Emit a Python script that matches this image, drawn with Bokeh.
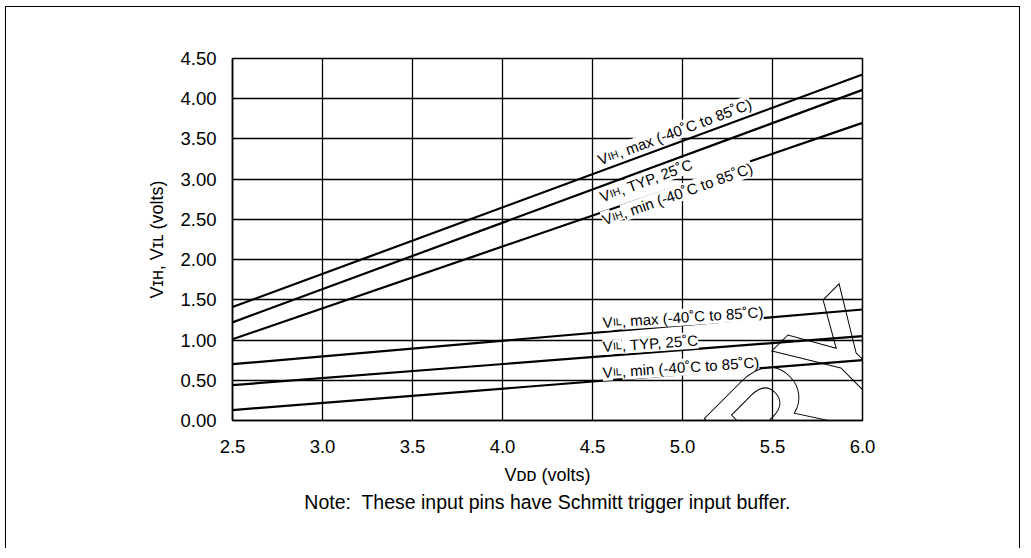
import math
from bokeh.plotting import figure
from bokeh.models import Label, FixedTicker, NumeralTickFormatter, Range1d, ColumnDataSource, Title
from bokeh.embed import file_html
from bokeh.resources import INLINE

# ---- data ----
vdd = [2.5, 6.0]
vih_max = [1.41, 4.30]
vih_typ = [1.22, 4.11]
vih_min = [1.01, 3.70]
vil_max = [0.70, 1.38]
vil_typ = [0.44, 1.05]
vil_min = [0.13, 0.75]

series_names = ["vih_max", "vih_typ", "vih_min", "vil_max", "vil_typ", "vil_min"]
# label = main letter, small-cap subscript, remainder
label_main = ["V", "V", "V", "V", "V", "V"]
label_sub = ["IH", "IH", "IH", "IL", "IL", "IL"]
label_rest = [
    ", max (-40\u02daC to 85\u02daC)",
    ", TYP, 25\u02daC",
    ", min (-40\u02daC to 85\u02daC)",
    ", max (-40\u02daC to 85\u02daC)",
    ", TYP, 25\u02daC",
    ", min (-40\u02daC to 85\u02daC)",
]
x_ticks = [2.5, 3.0, 3.5, 4.0, 4.5, 5.0, 5.5, 6.0]
y_ticks = [0.0, 0.5, 1.0, 1.5, 2.0, 2.5, 3.0, 3.5, 4.0, 4.5]

x_title = "V\u1d05\u1d05 (volts)"
y_title = "V\u026a\u029c, V\u026a\u029f (volts)"
note_text = "Note:\u00a0 These input pins have Schmitt trigger input buffer."
watermark_text = "PRELIMINARY"

# label placement (anchor = start of baseline, data units) and angles
label_x = [4.533, 4.544, 4.556, 4.556, 4.556, 4.556]
label_y = [3.234, 2.774, 2.488, 1.219, 0.920, 0.597]
label_angle = [20.5, 20.3, 19.5, 3.8, 3.8, 3.8]

FONT = '"Liberation Sans", "Noto Sans", "DejaVu Sans"'
LBL_SIZE = 15.0
SUB_SIZE = 10.5
ADV = {"V": 0.667, "I": 0.278, "H": 0.722, "L": 0.556}

source = ColumnDataSource(dict(vdd=vdd, vih_max=vih_max, vih_typ=vih_typ, vih_min=vih_min,
                               vil_max=vil_max, vil_typ=vil_typ, vil_min=vil_min))

p = figure(width=1015, height=542,
           x_range=Range1d(2.5, 6.0), y_range=Range1d(0.0, 4.5),
           output_backend="svg", toolbar_location=None,
           min_border_left=226, min_border_right=159,
           min_border_top=51, min_border_bottom=129)
p.styles = {"margin-left": "5px", "margin-top": "6px",
            "border-left": "1.5px solid black", "border-top": "1.5px solid black",
            "border-right": "1.5px solid black"}
p.background_fill_color = "white"
p.border_fill_color = "white"
p.outline_line_color = "black"
p.outline_line_width = 1.5

# grid
for g in (p.xgrid, p.ygrid):
    g.grid_line_color = "black"
    g.grid_line_width = 1.3
    g.grid_line_alpha = 1.0
p.xgrid.ticker = FixedTicker(ticks=x_ticks)
p.ygrid.ticker = FixedTicker(ticks=y_ticks)

# axes
p.xaxis.ticker = FixedTicker(ticks=x_ticks)
p.yaxis.ticker = FixedTicker(ticks=y_ticks)
p.xaxis.formatter = NumeralTickFormatter(format="0.0")
p.yaxis.formatter = NumeralTickFormatter(format="0.00")
for ax in (p.xaxis, p.yaxis):
    ax.axis_line_color = "black"
    ax.axis_line_width = 1.5
    ax.major_tick_line_color = None
    ax.minor_tick_line_color = None
    ax.major_tick_out = 0
    ax.major_tick_in = 0
    ax.major_label_text_font = FONT
    ax.major_label_text_font_size = "18.5px"
    ax.major_label_text_color = "black"
    ax.axis_label_text_font = FONT
    ax.axis_label_text_font_size = "18px"
    ax.axis_label_text_font_style = "normal"
    ax.axis_label_text_color = "black"
p.xaxis.major_label_standoff = 19
p.yaxis.major_label_standoff = 16
p.xaxis.axis_label = x_title
p.yaxis.axis_label = y_title
p.xaxis.axis_label_standoff = 9
p.yaxis.axis_label_standoff = 10

# note under the chart
note = Title(text=note_text, align="center", text_font=FONT, text_font_size="19.5px",
             text_font_style="normal", text_color="black", standoff=2)
p.add_layout(note, "below")

# data lines
for name in series_names:
    p.line("vdd", name, source=source, line_color="black", line_width=2.2)

# line labels, built from pieces along the rotated baseline
for main, sub, rest, lx, ly, ang in zip(label_main, label_sub, label_rest, label_x, label_y, label_angle):
    c, s = math.cos(math.radians(ang)), math.sin(math.radians(ang))
    d_sub = ADV[main] * LBL_SIZE + 0.3
    d_rest = d_sub + sum(ADV[ch] for ch in sub) * SUB_SIZE + 0.3
    pieces = [(main, 0.0, LBL_SIZE), (sub, d_sub, SUB_SIZE), (rest, d_rest, LBL_SIZE)]
    for txt, d, fs in pieces:
        p.add_layout(Label(x=lx, y=ly, x_offset=d * c, y_offset=d * s, text=txt,
                           angle=ang, angle_units="deg",
                           text_font=FONT, text_font_size=f"{fs}px", text_color="black",
                           text_baseline="alphabetic", text_align="left",
                           background_fill_color="white", background_fill_alpha=1.0))

# watermark (outlined text)
p.add_layout(Label(x=6.08, y=1.27, text=watermark_text, angle=45, angle_units="deg",
                   text_align="right", text_baseline="alphabetic", level="overlay",
                   text_font=FONT, text_font_style="bold", text_font_size="150px",
                   text_color=(255, 255, 255, 0.0), text_outline_color="black"))

open("out.html", "w").write(file_html(p, INLINE))
